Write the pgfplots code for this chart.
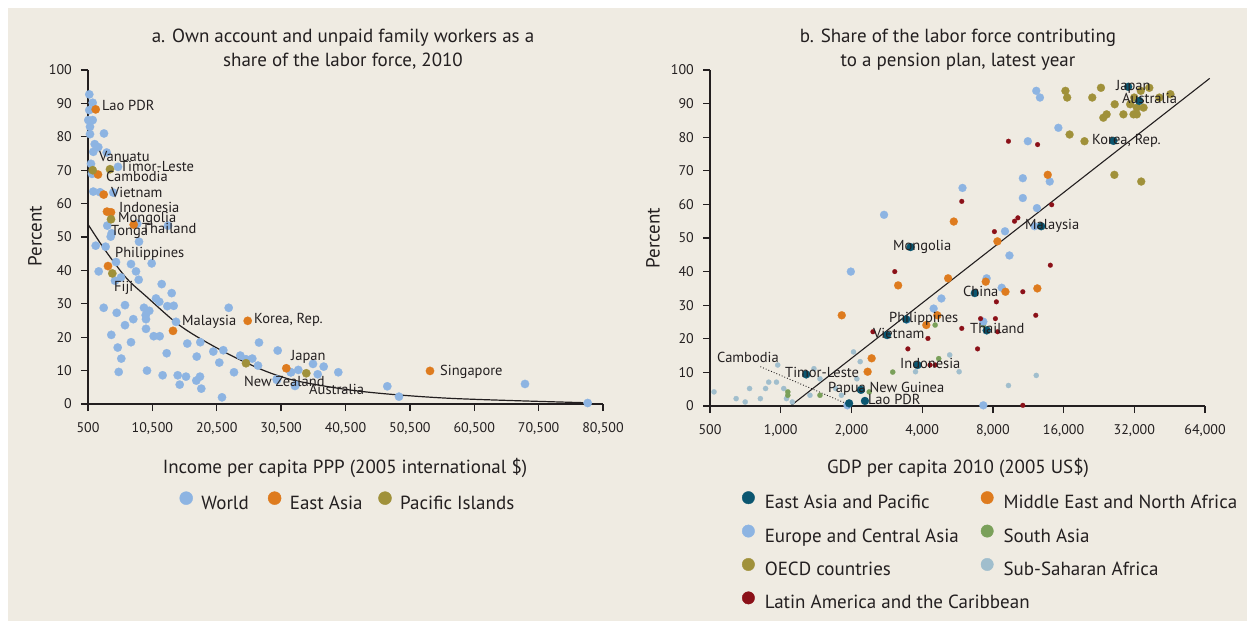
\documentclass[border=0pt]{standalone}
\usepackage{pgfplots}
\pgfplotsset{compat=1.18}
\usepackage{fontspec}
\setmainfont{PT Sans}
\definecolor{bg}{RGB}{239,235,226}
\definecolor{txt}{RGB}{35,31,32}
\definecolor{world}{RGB}{141,180,226}
\definecolor{eastasia}{RGB}{222,123,30}
\definecolor{pacific}{RGB}{160,145,58}
\definecolor{eap}{RGB}{11,86,112}
\definecolor{mena}{RGB}{222,123,30}
\definecolor{eca}{RGB}{141,180,226}
\definecolor{sas}{RGB}{122,160,90}
\definecolor{oecd}{RGB}{160,145,58}
\definecolor{ssa}{RGB}{160,190,205}
\definecolor{lac}{RGB}{139,16,24}
\pgfplotsset{
 common/.style={
  scale only axis, axis x line*=bottom, axis y line*=left,
  axis line style={txt, line width=1.3pt},
  tick style={txt, line width=1.3pt},
  tick align=outside, major tick length=7pt,
  ymin=0, ymax=100, ytick={0,10,...,100},
  scaled x ticks=false, scaled y ticks=false,
  tick label style={font=\fontsize{14}{14}\selectfont, text=txt, inner sep=0pt},
  xticklabel shift=11pt, yticklabel shift=9pt,
  /pgf/number format/assume math mode=true,
  clip=false,
  legend cell align=left,
  legend style={draw=none, fill=none, inner sep=0pt, outer sep=0pt,
    font=\fontsize{19}{19}\selectfont, text=txt,
    nodes={inner sep=0pt, text height=14pt, text depth=5pt}},
 },
 dots/.style 2 args={only marks, mark=*, mark size=#2, color=#1, mark options={solid, fill=#1, draw=#1, line width=0.2pt}},
}
\newcommand{\lab}[3]{\node[anchor=base west, font=\fontsize{14.5}{14.5}\selectfont, text=txt, inner sep=0pt] at (#1pt,{(621-#2-5)*1pt}) {#3};}
\begin{document}
\begin{tikzpicture}[x=1pt,y=1pt]
\fill[white] (0,0) rectangle (1247,621);
\fill[bg] (8,0) rectangle (1247,613);
\useasboundingbox (0,0) rectangle (1247,621);

% ---------------- Panel a ----------------
\begin{axis}[common, at={(88pt,217pt)}, anchor=south west, width=515pt, height=334pt,
  xmin=500, xmax=80500, xtick={500,10500,20500,30500,40500,50500,60500,70500,80500},
  xticklabels={500,{10,500},{20,500},{30,500},{40,500},{50,500},{60,500},{70,500},{80,500}},
  legend columns=3,
  legend style={at={(axis description cs:0.1777,-0.2958)}, anchor=west,
    /tikz/every odd column/.style={column sep=8.5pt},
    /tikz/every even column/.style={column sep=0pt}},
]
\addlegendimage{legend image code/.code={\fill[world] (0pt,6.5pt) circle (6.5pt);}}
\addlegendentry{\makebox[66.5pt][l]{World}}
\addlegendimage{legend image code/.code={\fill[eastasia] (0pt,6.5pt) circle (6.5pt);}}
\addlegendentry{\makebox[88.5pt][l]{East Asia}}
\addlegendimage{legend image code/.code={\fill[pacific] (0pt,6.5pt) circle (6.5pt);}}
\addlegendentry{Pacific Islands}

\addplot[dots={world}{4.2pt}, forget plot] coordinates {
(700,92.7)(1230,90.2)(700,88)(1230,85)(547,85)(811,83)(811,80.8)(2985,81)(1541,77.8)(2100,76.9)
(1323,75.5)(3405,75.3)(966,71.9)(1121,68.9)(5160,71)(1323,63.6)(2364,63.4)(4430,63.3)(3498,53.4)
(8158,54)(12927,53.4)(4182,51.1)(4026,50.1)(8422,48.6)(1696,47.4)(3234,47.1)(4850,42.5)(7180,41.9)
(10395,42.1)(2162,39.7)(7956,39.7)(8376,37.2)(4694,36.9)(5626,37.9)(11949,35.9)(13502,33.2)
(11063,31.6)(11576,30.6)(12819,29.3)(13813,29.4)(2939,28.8)(6248,29.6)(9199,28.8)(10022,27.9)
(22356,28.8)(4958,27.3)(9463,26.6)(7537,25.4)(9510,25.4)(14170,24.6)(6248,23.6)(9510,22.5)
(4119,20.7)(10706,20.3)(11638,20.3)(7180,18.5)(15925,18.1)(17945,18.5)(5114,16.9)(19964,15.7)
(21518,16.1)(27063,18.4)(29968,16)(5673,13.6)(12725,15.2)(17386,14.2)(24159,14.5)(25044,13.4)
(26023,13.6)(20896,12.4)(26908,11.5)(5269,9.6)(9665,10)(12095,8.6)(14434,8.6)(15723,8.2)
(14745,5.8)(17323,7)(17898,8.2)(18100,4.6)(23180,9.5)(31987,9.5)(32764,5.7)(21316,2)(29859,7.2)
(32034,9.5)(33168,10.2)(35452,12)(36182,8.9)(37114,11.2)(39382,9.5)(29813,7.4)(32655,5.4)
(46994,5.3)(48811,2.2)(68383,6)(78122,0.3)
};
\addplot[dots={eastasia}{4.2pt}, forget plot] coordinates {
(1696,88.2)(2053,68.7)(2939,62.7)(3451,57.6)(4073,57.4)(7599,53.7)(3607,41.3)(13704,21.9)
(25308,24.9)(31304,10.7)(53626,9.9)
};
\addplot[dots={pacific}{4.2pt}, forget plot] coordinates {
(1230,70)(3917,70.3)(4073,55.3)(4275,39.1)(25044,12.2)(34411,9.2)
};
\addplot[smooth, txt, line width=1.2pt, forget plot] coordinates {
(500,53.8)(3141,46.1)(6509,37.6)(9614,32.1)(14015,24.6)(17386,20.2)(22560,14.7)(28260,9.7)
(33430,6.7)(43270,3.7)(56730,1.7)(77440,0.4)
};
\end{axis}

% ---------------- Panel b ----------------
\begin{axis}[common, at={(710pt,215pt)}, anchor=south west, width=495pt, height=336pt,
  xmode=log, log basis x=2, xmin=500, xmax=64000,
  xtick={500,1000,2000,4000,8000,16000,32000,64000},
  xticklabels={500,{1,000},{2,000},{4,000},{8,000},{16,000},{32,000},{64,000}},
  legend columns=2,
  legend style={at={(axis description cs:0.0646,-0.2538)}, anchor=north west,
    row sep=11pt,
    /tikz/every odd column/.style={column sep=10pt},
    /tikz/every even column/.style={column sep=0pt}},
]
\addlegendimage{legend image code/.code={\fill[eap] (0pt,6.5pt) circle (6.2pt);}}
\addlegendentry{\makebox[216pt][l]{East Asia and Pacific}}
\addlegendimage{legend image code/.code={\fill[mena] (0pt,6.5pt) circle (6.2pt);}}
\addlegendentry{Middle East and North Africa}
\addlegendimage{legend image code/.code={\fill[eca] (0pt,6.5pt) circle (6.2pt);}}
\addlegendentry{\makebox[216pt][l]{Europe and Central Asia}}
\addlegendimage{legend image code/.code={\fill[sas] (0pt,6.5pt) circle (6.2pt);}}
\addlegendentry{South Asia}
\addlegendimage{legend image code/.code={\fill[oecd] (0pt,6.5pt) circle (6.2pt);}}
\addlegendentry{\makebox[216pt][l]{OECD countries}}
\addlegendimage{legend image code/.code={\fill[ssa] (0pt,6.5pt) circle (6.2pt);}}
\addlegendentry{Sub-Saharan Africa}
\addlegendimage{legend image code/.code={\fill[lac] (0pt,6.5pt) circle (6.2pt);}}
\addlegendentry{\makebox[216pt][l]{Latin America and the Caribbean}}

\addplot[dots={ssa}{2.6pt}, forget plot] coordinates {
(2041,16.1)(2179,13.2)(5240,15.2)(3748,10.2)(5748,10.2)(971,12.2)(1385,11.1)(1469,8.1)(2109,8.1)
(889,7.1)(959,7.1)(737,5.2)(862,5.2)(1030,5.2)(520,4.2)(646,2.2)(706,1.2)(819,2.2)(1058,2.2)
(1120,1.2)(1332,3.2)(1813,3.2)(1714,5.2)(12240,9.1)(9320,6.1)
};
\addplot[dots={sas}{2.6pt}, forget plot] coordinates {
(4543,24.1)(4705,14.1)(2998,10.1)(1072,4.2)(1072,3.2)(1469,3.2)(2381,4.2)(7285,24.1)
};
\addplot[dots={eca}{4pt}, forget plot] coordinates {
(5940,64.9)(2753,56.9)(1988,40)(4830,32)(4476,29)(3443,25.7)(7526,38)(7285,25.1)(7285,0.2)
(1924,0.2)(10730,67.8)(13970,66.8)(10730,61.9)(12320,58.9)(9010,52)(9410,44.8)(8725,35.2)
(12240,93.8)(12690,91.8)(15200,82.8)(11270,78.8)(12040,53.5)
};
\addplot[dots={mena}{4pt}, forget plot] coordinates {
(5453,54.9)(3161,35.9)(5159,38)(1819,27)(4165,24.1)(4641,27)(2438,14.2)(2344,10.2)(8365,49)
(13700,68.8)(7460,37)(9050,34)(12370,35)
};
\addplot[dots={oecd}{4pt}, forget plot] coordinates {
(16290,93.8)(16570,91.8)(23080,94.7)(21190,91.8)(26410,89.8)(24400,86.8)(23620,85.8)(28760,86.8)
(31760,86.8)(32800,86.8)(30730,89.8)(32800,88.8)(35040,88.8)(31970,91.8)(34100,93.8)(37070,94.7)
(40900,91.8)(45580,92.8)(16970,80.8)(19640,78.8)(26320,68.8)(34250,66.8)
};
\addplot[dots={lac}{2.4pt}, forget plot] coordinates {
(5898,60.9)(3058,40)(2469,22.1)(4234,20.1)(5898,23.1)(3477,17)(4320,12.2)(4543,12.2)(7090,26)
(8120,51.9)(6886,17)(8280,31)(8200,26)(8380,22.1)(14240,59.9)(10220,56)(9890,55)(14050,41.9)
(10730,34)(12180,27)(10730,0.2)(9320,78.8)(12400,77.8)
};
\addplot[dots={eap}{4pt}, forget plot] coordinates {
(3568,47.3)(6700,33.6)(3420,25.8)(2837,21.1)(7526,22.5)(3823,12.2)(1284,9.4)(2195,4.8)(2283,1.5)
(1955,0.8)(12850,53.5)(26070,78.9)(30130,95)(33590,90.8)
};
\addplot[txt, line width=1.1pt, forget plot] coordinates {(1100,0)(67000,97.5)};
\addplot[txt, line width=0.9pt, dotted, forget plot] coordinates {(819,11.7)(1862,1.0)};
\end{axis}

% ---------------- Texts ----------------
\begin{scope}[font=\fontsize{19}{19}\selectfont, text=txt]
\node[anchor=base] at (343,{621-42.5}) {a. Own account and unpaid family workers as a};
\node[anchor=base] at (343,{621-66.5}) {share of the labor force, 2010};
\node[anchor=base] at (958,{621-42.5}) {b. Share of the labor force contributing};
\node[anchor=base] at (958,{621-66.5}) {to a pension plan, latest year};
\node[anchor=base] at (345,{621-473.5}) {Income per capita PPP (2005 international \$)};
\node[anchor=base] at (958,{621-473.5}) {GDP per capita 2010 (2005 US\$)};
\node[rotate=90] at (35,{621-236}) {Percent};
\node[rotate=90] at (653,{621-238}) {Percent};
\end{scope}

\lab{102}{106}{Lao PDR}
\lab{99}{157}{Vanuatu}
\lab{120}{167}{Timor-Leste}
\lab{106}{177}{Cambodia}
\lab{111}{193}{Vietnam}
\lab{119}{208}{Indonesia}
\lab{118}{218}{Mongolia}
\lab{142}{229}{Thailand}
\lab{111}{231}{Tonga}
\lab{115}{253}{Philippines}
\lab{114}{287}{Fiji}
\lab{182}{321}{Malaysia}
\lab{254}{319}{Korea, Rep.}
\lab{291}{356}{Japan}
\lab{244}{382}{New Zealand}
\lab{309}{390}{Australia}
\lab{440}{371}{Singapore}

\lab{1116}{86}{Japan}
\lab{1122}{99}{Australia}
\lab{1092}{140}{Korea, Rep.}
\lab{1025}{225}{Malaysia}
\lab{893}{246}{Mongolia}
\lab{963}{292}{China}
\lab{889}{318}{Philippines}
\lab{873}{334}{Vietnam}
\lab{970}{329}{Thailand}
\lab{900}{364}{Indonesia}
\lab{717}{358}{Cambodia}
\lab{785}{373}{Timor-Leste}
\lab{828}{388}{Papua New Guinea}
\lab{868}{400}{Lao PDR}
\end{tikzpicture}
\end{document}
